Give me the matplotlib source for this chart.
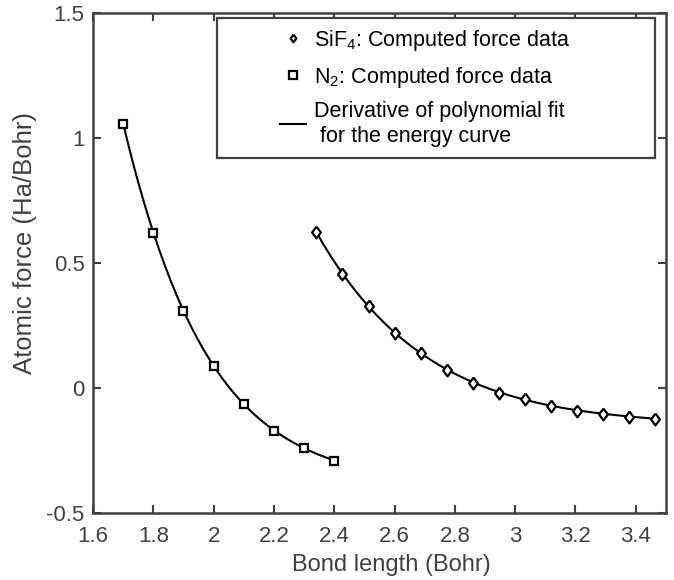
import numpy as np
import matplotlib
matplotlib.use("Agg")
import matplotlib.pyplot as plt
from matplotlib.patches import Rectangle

plt.rcParams["font.family"] = ["Liberation Sans", "DejaVu Sans"]
plt.rcParams["mathtext.default"] = "regular"

# Computed forces vs. bond length
n2_x = [1.7, 1.8, 1.9, 2.0, 2.1, 2.2, 2.3, 2.4]
n2_f = [1.058, 0.622, 0.310, 0.089, -0.064, -0.171, -0.239, -0.290]

sif4_x = [2.341, 2.427, 2.514, 2.600, 2.687, 2.773, 2.860, 2.946,
          3.033, 3.119, 3.206, 3.292, 3.379, 3.465]
sif4_f = [0.623, 0.457, 0.327, 0.222, 0.141, 0.074, 0.022, -0.018,
          -0.045, -0.070, -0.090, -0.103, -0.114, -0.123]

xticks = [1.6, 1.8, 2.0, 2.2, 2.4, 2.6, 2.8, 3.0, 3.2, 3.4]
xtick_labels = ["1.6", "1.8", "2", "2.2", "2.4", "2.6", "2.8", "3", "3.2", "3.4"]
yticks = [-0.5, 0, 0.5, 1, 1.5]
ytick_labels = ["-0.5", "0", "0.5", "1", "1.5"]

axis_color = "#404040"
diamond = [(0, 1), (0.75, 0), (0, -1), (-0.75, 0), (0, 1)]


def fit_curve(x, f, deg):
    # smooth polynomial through the force points
    p = np.polyfit(x, f, deg)
    xs = np.linspace(min(x), max(x), 200)
    return xs, np.polyval(p, xs)


fig = plt.figure(figsize=(6.74, 5.8), dpi=100)
ax = fig.add_axes([0.138, 0.1155, 0.850, 0.862])

xs, ys = fit_curve(sif4_x, sif4_f, 5)
ax.plot(xs, ys, "k-", lw=1.5, zorder=2)
xs, ys = fit_curve(n2_x, n2_f, 4)
ax.plot(xs, ys, "k-", lw=1.5, zorder=2, label="Derivative of polynomial fit\n for the energy curve")

ax.plot(sif4_x, sif4_f, linestyle="none", marker=diamond, ms=8.5, mfc="white", mec="black",
        mew=1.6, zorder=3, label="SiF$_4$: Computed force data")
ax.plot(n2_x, n2_f, linestyle="none", marker="s", ms=5.3, mfc="white", mec="black",
        mew=1.6, zorder=3, label="N$_2$: Computed force data")

ax.set_xlim(1.6, 3.5)
ax.set_ylim(-0.5, 1.5)
ax.set_xticks(xticks)
ax.set_xticklabels(xtick_labels)
ax.set_yticks(yticks)
ax.set_yticklabels(ytick_labels)
ax.tick_params(direction="in", length=6, width=1.5, top=True, right=True,
               labelsize=16, colors=axis_color)
ax.tick_params(axis="x", pad=9)
ax.tick_params(axis="y", pad=6)
for s in ax.spines.values():
    s.set_color(axis_color)
    s.set_linewidth(1.8)

ax.set_xlabel("Bond length (Bohr)", fontsize=17, color=axis_color)
ax.set_ylabel("Atomic force (Ha/Bohr)", fontsize=18.5, color=axis_color)
ax.xaxis.set_label_coords(0.52, -0.104, transform=ax.transAxes)
ax.yaxis.set_label_coords(-0.119, 0.54, transform=ax.transAxes)
ax.xaxis.label.set_va("center")
ax.yaxis.label.set_va("center")

# legend box drawn on its own, entries placed inside it
ax.add_patch(Rectangle((0.216, 0.71), 0.765, 0.28, transform=ax.transAxes,
                       facecolor="white", edgecolor=axis_color, lw=1.6, zorder=4))

handles, labels = ax.get_legend_handles_labels()
order = [1, 2, 0]
leg = ax.legend([handles[i] for i in order], [labels[i] for i in order],
                loc="upper left", bbox_to_anchor=(0.309, 0.99),
                borderaxespad=0, frameon=False, fontsize=15.5, handlelength=1.2,
                handletextpad=0.4, labelspacing=0.55, borderpad=0.45)
leg.set_zorder(5)
for h in leg.legend_handles:
    if h.get_marker() not in (None, "None", ""):
        h.set_markersize(5.5)

fig.savefig("out.png", dpi=100)
